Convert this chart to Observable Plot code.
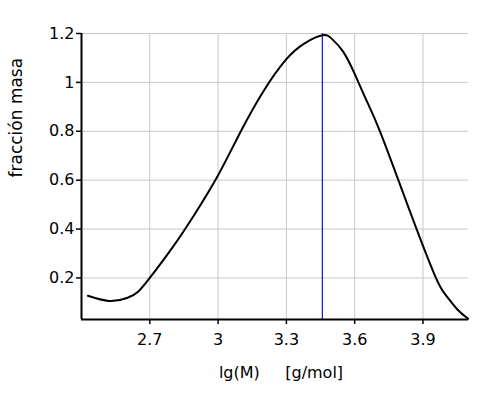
<!DOCTYPE html>
<html>
<head>
<meta charset="utf-8">
<script src="https://cdn.jsdelivr.net/npm/d3@7"></script>
<script src="https://cdn.jsdelivr.net/npm/@observablehq/plot@0.6"></script>
<style>
  html, body { margin: 0; padding: 0; background: #fff; }
</style>
</head>
<body>
<div id="chart"></div>
<script>
const lgM = [2.428, 2.52, 2.6, 2.65, 2.7, 2.8, 2.9, 3.0, 3.1, 3.2, 3.3, 3.38, 3.458, 3.5, 3.55, 3.6, 3.65, 3.711, 3.8, 3.872, 3.957, 4.0, 4.05, 4.099];
const fraccion = [0.127, 0.106, 0.118, 0.145, 0.2, 0.325, 0.465, 0.62, 0.8, 0.965, 1.095, 1.16, 1.193, 1.178, 1.125, 1.035, 0.93, 0.8, 0.58, 0.4, 0.2, 0.13, 0.072, 0.033];
const peakLgM = [3.458];
const xTicks = [2.7, 3, 3.3, 3.6, 3.9];
const yTicks = [0.2, 0.4, 0.6, 0.8, 1, 1.2];
const xLabel = "lg(M)\u00a0\u00a0\u00a0\u00a0\u00a0[g/mol]";
const yLabel = "fracción masa";

const data = lgM.map((x, i) => ({x, y: fraccion[i]}));

const chart = Plot.plot({
  width: 480,
  height: 394,
  marginLeft: 81,
  marginTop: 33,
  marginRight: 12,
  marginBottom: 75,
  style: {fontFamily: "'DejaVu Sans', sans-serif", fontSize: "16px", color: "#000", background: "#fff"},
  x: {domain: [2.4, 4.1]},
  y: {domain: [0.03, 1.2]},
  marks: [
    Plot.gridX(xTicks, {stroke: "#c8c8c8", strokeOpacity: 1}),
    Plot.gridY(yTicks, {stroke: "#c8c8c8", strokeOpacity: 1}),
    Plot.ruleX(peakLgM, {stroke: "#1414c8", strokeWidth: 1.2}),
    Plot.line(data, {x: "x", y: "y", stroke: "#000", strokeWidth: 2, curve: "natural"}),
    Plot.axisX(xTicks, {tickSize: 5, tickPadding: 9, tickFormat: d => String(d), label: null, stroke: "#000", strokeWidth: 1.5, fill: "#000"}),
    Plot.axisY(yTicks, {tickSize: 5, tickPadding: 2, tickFormat: d => String(d), label: null, stroke: "#000", strokeWidth: 1.5, fill: "#000"}),
    Plot.ruleX([2.4], {stroke: "#000", strokeWidth: 2}),
    Plot.ruleY([0.03], {stroke: "#000", strokeWidth: 2}),
    Plot.text([xLabel], {frameAnchor: "bottom", dy: 53, dx: 6, fill: "#000", fontSize: 16, lineAnchor: "middle"}),
    Plot.text([yLabel], {frameAnchor: "left", rotate: -90, dx: -65, dy: 1, fill: "#000", fontSize: 17, lineAnchor: "middle"})
  ]
});
document.getElementById("chart").appendChild(chart);
</script>
</body>
</html>
